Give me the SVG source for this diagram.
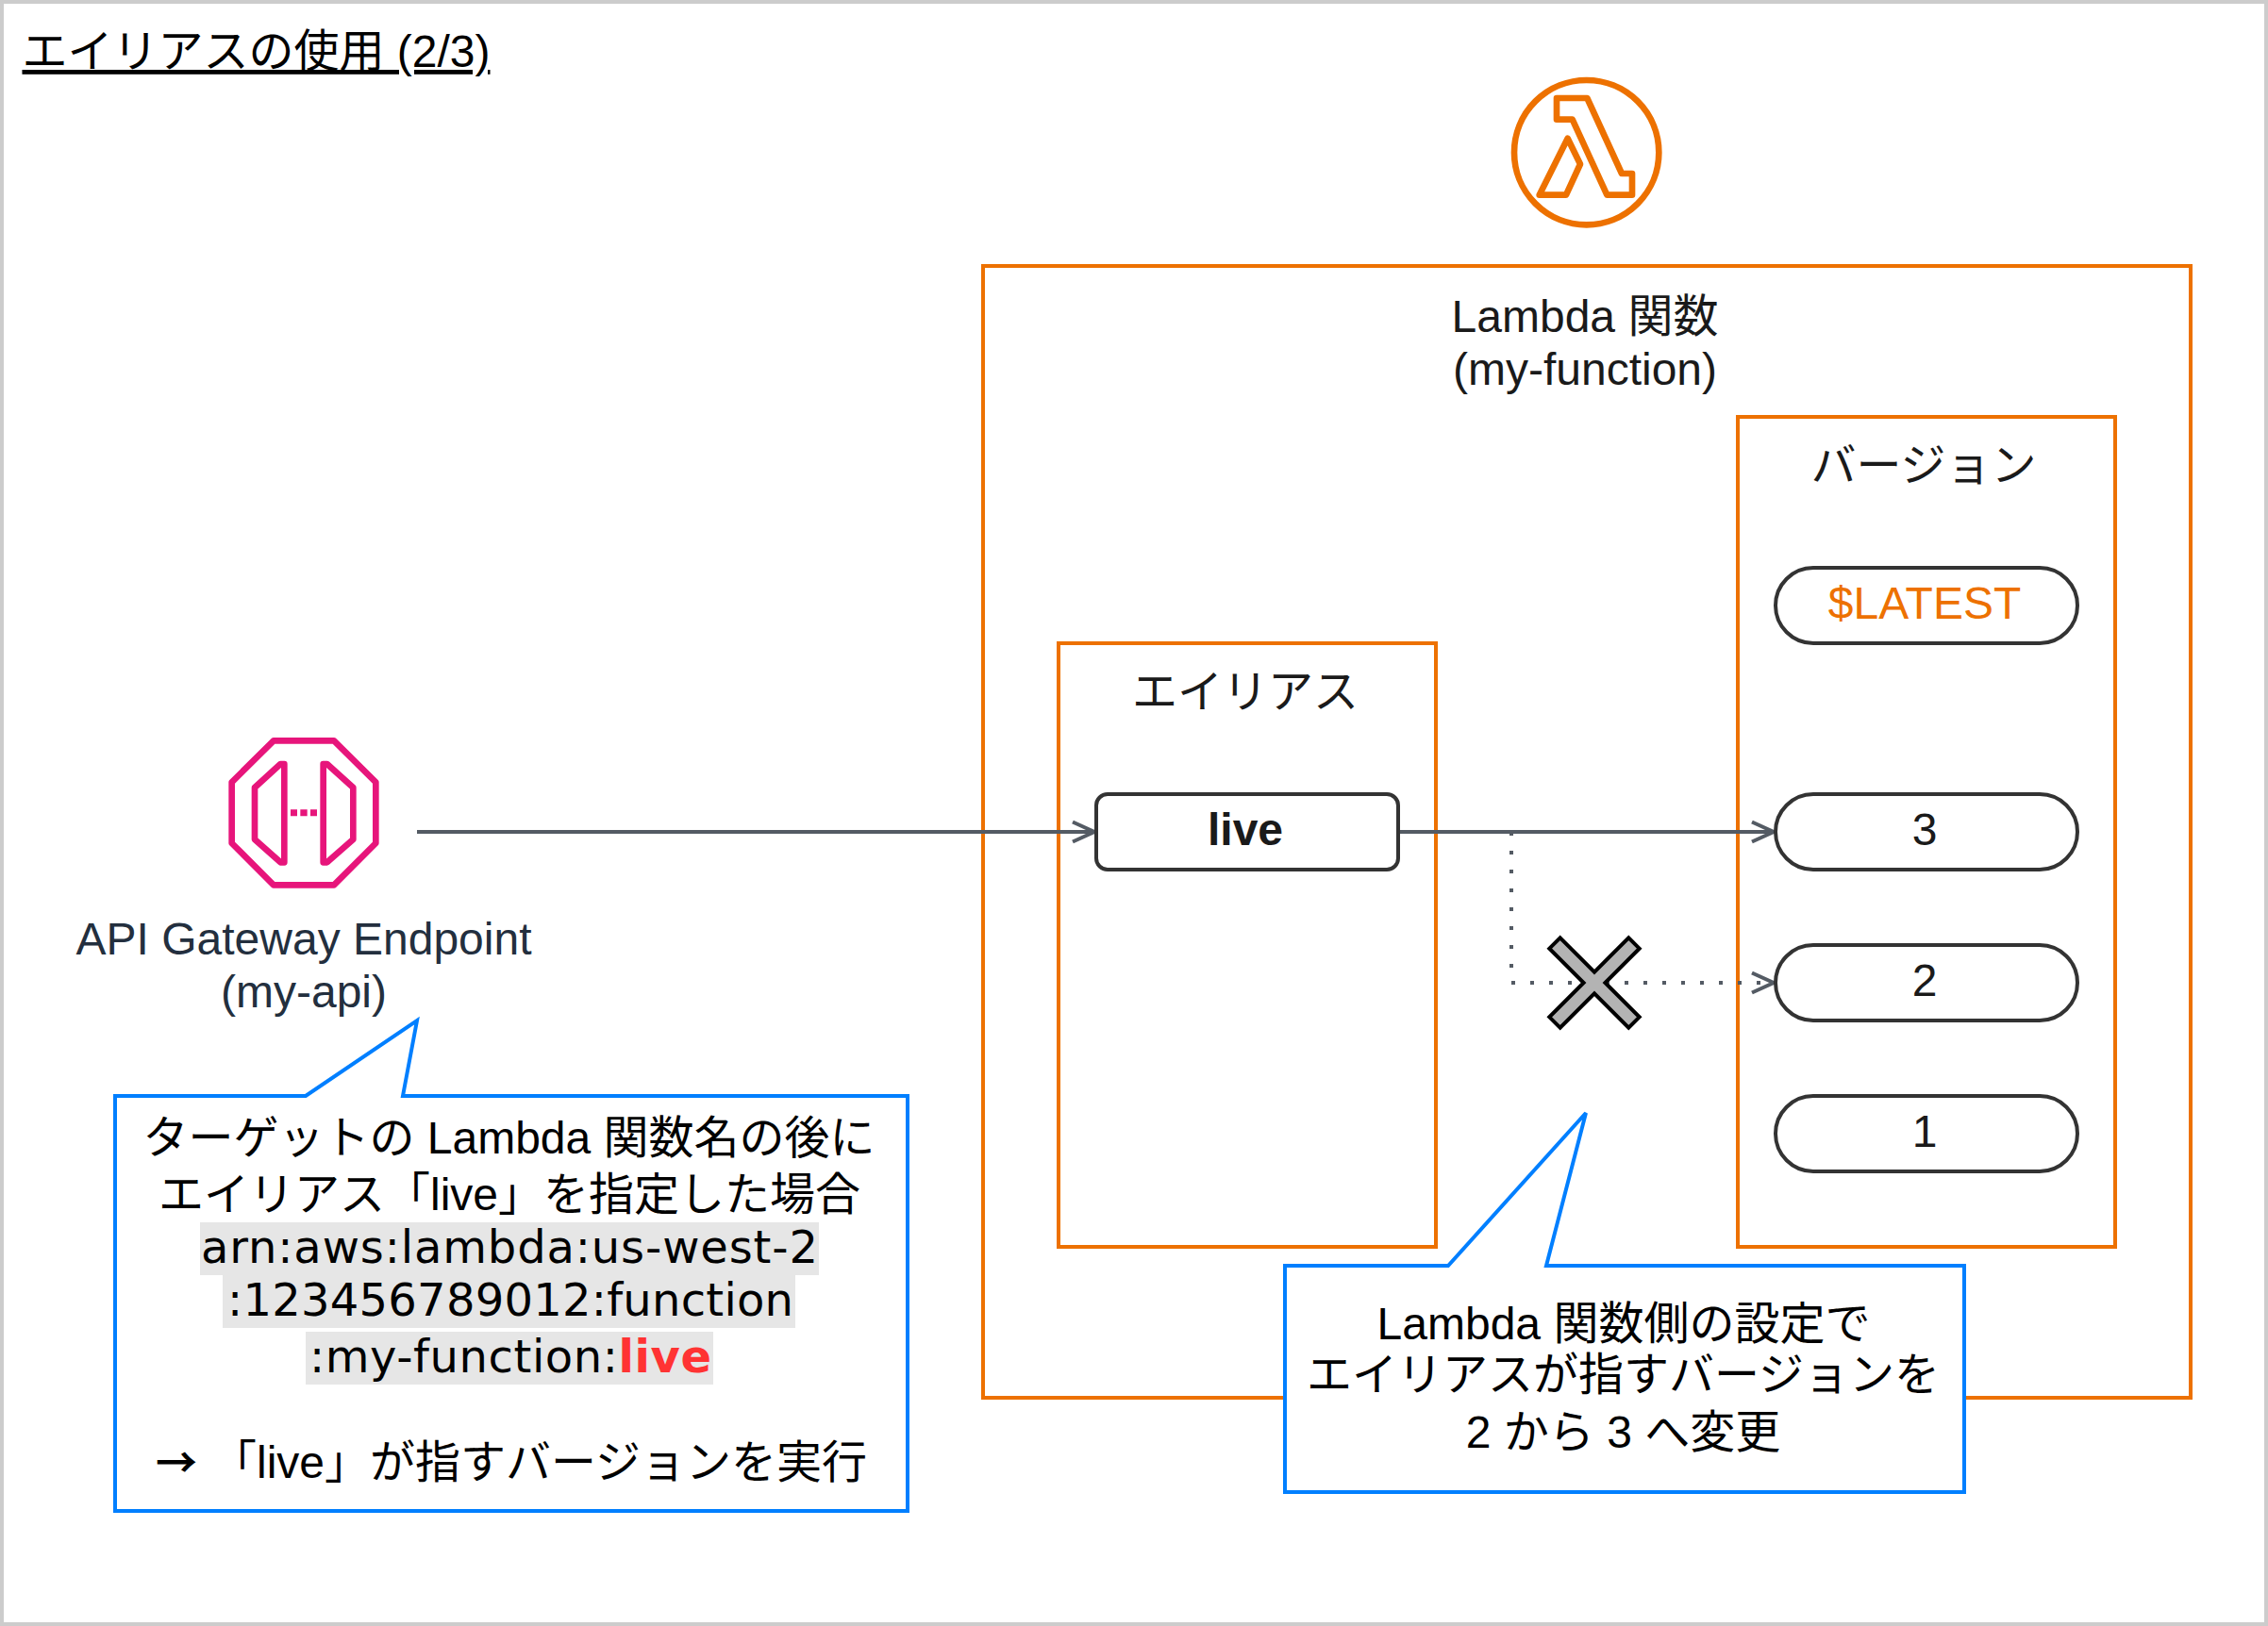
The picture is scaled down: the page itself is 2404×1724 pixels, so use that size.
<svg xmlns="http://www.w3.org/2000/svg" width="2404" height="1724" viewBox="0 0 2404 1724">
<style>
text{font-family:"Liberation Sans","Noto Sans CJK JP",sans-serif;font-size:48px;text-anchor:middle;fill:#000}
.dk{fill:#1a1a1a}
.ag{fill:#232f3e}
.or{fill:none;stroke:#ed7100;stroke-width:4}
.pill{fill:#fff;stroke:#333;stroke-width:4}
.call{fill:#fff;stroke:#007fff;stroke-width:4}
.mono{font-family:"DejaVu Sans","Noto Sans CJK JP",sans-serif}
.hl{fill:#e6e6e6}
.conn{fill:none;stroke:#545b64;stroke-width:4}
.ic-l{fill:none;stroke:#ed7100;stroke-width:20;stroke-linejoin:round}
.ic-g{fill:none;stroke:#e7157b;stroke-width:20;stroke-linejoin:round}
</style>
<defs>
<marker id="open" markerUnits="userSpaceOnUse" markerWidth="30" markerHeight="30" refX="24" refY="12" orient="auto" overflow="visible">
<path d="M1 1.5L24 12L1 22.5" fill="none" stroke="#545b64" stroke-width="4"/>
</marker>
</defs>
<rect id="page" x="2" y="2" width="2400" height="1720" fill="#fff" stroke="#ccc" stroke-width="4"/>
<g id="title"><text x="271.5" y="71" text-decoration="underline">エイリアスの使用 (2/3)</text></g>
<g id="lambda-icon" transform="translate(1550 50) scale(.33333)">
<circle cx="395" cy="335" r="230" class="ic-l"/>
<path class="ic-l" d="M300 162H397L507 402H540V470H460L350 230H300Z"/>
<path class="ic-l" d="M335 290L375 372L330 470H245Z"/>
</g>
<g id="lambda-function"><rect class="or" x="1042" y="282" width="1280" height="1200"/>
<text class="dk" x="1680" y="352">Lambda 関数</text><text class="dk" x="1680" y="408">(my-function)</text></g>
<g id="alias-group"><rect class="or" x="1122" y="682" width="400" height="640"/>
<text class="dk" x="1320" y="750">エイリアス</text></g>
<g id="version-group"><rect class="or" x="1842" y="442" width="400" height="880"/>
<text class="dk" x="2039" y="510">バージョン</text></g>
<g id="connectors">
<path class="conn" d="M442 882H1160" marker-end="url(#open)"/>
<path class="conn" d="M1482 882H1880" marker-end="url(#open)"/>
<path class="conn" d="M1602 882V1042H1880" stroke-dasharray="4 16" marker-end="url(#open)"/>
</g>
<g id="api-gateway">
<g transform="translate(200 750) scale(.33333)">
<path class="ic-g" d="M270 106H462L595 238V432L462 565H270L137 432V238Z"/>
<path class="ic-g" d="M304 180H292L210 255V420L292 493H304Z"/>
<path class="ic-g" d="M428 180H440L523 255V420L440 493H428Z"/>
<path fill="#e7157b" d="M324 325h21v21h-21zM355 325h22v21h-22zM387 325h21v21h-21z"/>
</g>
<text class="ag" x="322" y="1012">API Gateway Endpoint</text>
<text class="ag" x="322" y="1068">(my-api)</text></g>
<g id="live"><rect x="1162" y="842" width="320" height="80" rx="12" class="pill"/><text x="1320" y="896" font-weight="bold" class="dk">live</text></g>
<g id="v-latest"><rect x="1882" y="602" width="320" height="80" rx="40" class="pill"/><text x="2040" y="656" style="fill:#ed7100">$LATEST</text></g>
<g id="v3"><rect x="1882" y="842" width="320" height="80" rx="40" class="pill"/><text x="2040" y="896" class="dk">3</text></g>
<g id="v2"><rect x="1882" y="1002" width="320" height="80" rx="40" class="pill"/><text x="2040" y="1056" class="dk">2</text></g>
<g id="v1"><rect x="1882" y="1162" width="320" height="80" rx="40" class="pill"/><text x="2040" y="1216" class="dk">1</text></g>
<g id="cross"><path fill="#b3b3b3" stroke="#000" stroke-width="4" d="M1653.7 994.3L1690 1030.6L1726.3 994.3L1737.7 1005.7L1701.4 1042L1737.7 1078.3L1726.3 1089.7L1690 1053.4L1653.7 1089.7L1642.3 1078.3L1678.6 1042L1642.3 1005.7Z"/></g>
<g id="callout-arn">
<path class="call" d="M122 1162H324L442 1082L427 1162H962V1602H122Z"/>
<rect class="hl" x="212" y="1296" width="656" height="56"/>
<rect class="hl" x="236" y="1352" width="607" height="56"/>
<rect class="hl" x="324" y="1412" width="432" height="56"/>
<text x="539.5" y="1223">ターゲットの Lambda 関数名の後に</text>
<text x="540" y="1283">エイリアス「live」を指定した場合</text>
<text class="mono" x="540" y="1339" textLength="654" lengthAdjust="spacing">arn:aws:lambda:us-west-2</text>
<text class="mono" x="541" y="1395" textLength="600" lengthAdjust="spacing">:123456789012:function</text>
<text class="mono" x="541" y="1455" textLength="426" lengthAdjust="spacing">:my-function:<tspan font-weight="bold" style="fill:#f33">live</tspan></text>
<text y="1567" style="text-anchor:start"><tspan x="165" font-weight="bold" style="font-family:'Noto Sans CJK JP',sans-serif;font-size:44px">→ </tspan><tspan x="224">「live」が指すバージョンを実行</tspan></text>
</g>
<g id="callout-change">
<path class="call" d="M1362 1342H1535L1681 1180L1639 1342H2082V1582H1362Z"/>
<text x="1721" y="1420">Lambda 関数側の設定で</text>
<text x="1720.5" y="1474">エイリアスが指すバージョンを</text>
<text x="1720.5" y="1535">2 から 3 へ変更</text>
</g>
</svg>
